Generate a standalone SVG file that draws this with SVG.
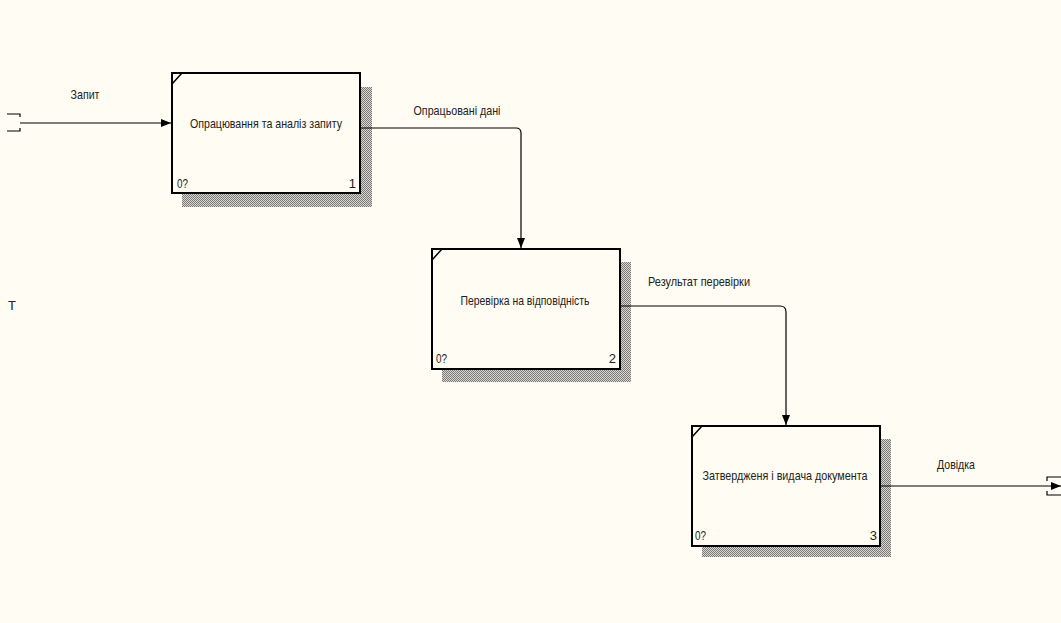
<svg xmlns="http://www.w3.org/2000/svg" width="1061" height="623" viewBox="0 0 1061 623">
<style>
.bg{fill:#FEFCF3}
.box{fill:#FEFCF3;stroke:#000;stroke-width:2}
.shadow{fill:url(#hatch)}
.t{font-family:"Liberation Sans",Arial,sans-serif;font-size:13px;fill:#222}
.c{text-anchor:middle}
.e{text-anchor:end}
.ln{fill:none;stroke:#000;stroke-width:1.2}
.br{fill:none;stroke:#000;stroke-width:1.2}
</style>
<defs>
<pattern id="hatch" width="2" height="2" patternUnits="userSpaceOnUse">
<rect width="2" height="2" fill="#d8d6ce"/>
<rect width="1" height="1" fill="#7a7a7a"/>
<rect x="1" y="1" width="1" height="1" fill="#7a7a7a"/>
</pattern>
<marker id="arr" viewBox="0 0 10 8" refX="10" refY="4" markerWidth="10" markerHeight="8" markerUnits="userSpaceOnUse" orient="auto">
<path d="M0,0 L10,4 L0,8 Z" fill="#000"/>
</marker>
</defs>
<rect class="bg" x="0" y="0" width="1061" height="623"/>

<g id="node1">
<rect class="shadow" x="182" y="87" width="190" height="120"/>
<rect class="box" x="172" y="73" width="188" height="120"/>
<line x1="172" y1="84" x2="182" y2="73" stroke="#000" stroke-width="1.5"/>
<text class="t c" x="266" y="128" textLength="152" lengthAdjust="spacingAndGlyphs">Опрацювання та аналіз запиту</text>
<text class="t" x="177" y="188" textLength="11" lengthAdjust="spacingAndGlyphs">0?</text>
<text class="t e" x="356" y="188">1</text>
</g>

<g id="node2">
<rect class="shadow" x="442" y="262" width="189" height="120"/>
<rect class="box" x="432" y="249" width="188" height="120"/>
<line x1="432" y1="260" x2="442" y2="249" stroke="#000" stroke-width="1.5"/>
<text class="t c" x="525" y="305" textLength="129" lengthAdjust="spacingAndGlyphs">Перевірка на відповідність</text>
<text class="t" x="436" y="363" textLength="11" lengthAdjust="spacingAndGlyphs">0?</text>
<text class="t e" x="616" y="363">2</text>
</g>

<g id="node3">
<rect class="shadow" x="702" y="439" width="189" height="118"/>
<rect class="box" x="692" y="426" width="188" height="120"/>
<line x1="692" y1="437" x2="702" y2="426" stroke="#000" stroke-width="1.5"/>
<text class="t c" x="785" y="480" textLength="165" lengthAdjust="spacingAndGlyphs">Затвердженя і видача документа</text>
<text class="t" x="695" y="540" textLength="11" lengthAdjust="spacingAndGlyphs">0?</text>
<text class="t e" x="877" y="540">3</text>
</g>

<g id="connectors">
<path class="br" d="M7,114 H20 V117 M7,131 H20 V128"/>
<path class="ln" d="M20,123 H171" marker-end="url(#arr)"/>
<text class="t c" x="85" y="99" textLength="29" lengthAdjust="spacingAndGlyphs">Запит</text>

<path class="ln" d="M361,128 H516 Q521,128 521,133 V248" marker-end="url(#arr)"/>
<text class="t c" x="457" y="115" textLength="87" lengthAdjust="spacingAndGlyphs">Опрацьовані дані</text>

<path class="ln" d="M621,306 H780 Q786,306 786,312 V425" marker-end="url(#arr)"/>
<text class="t c" x="699" y="286" textLength="102" lengthAdjust="spacingAndGlyphs">Результат перевірки</text>

<path class="ln" d="M881,486 H1061" marker-end="url(#arr)"/>
<text class="t c" x="956" y="469" textLength="38" lengthAdjust="spacingAndGlyphs">Довідка</text>
<path class="br" d="M1047,481 V477 H1061 M1047,491 V495 H1061"/>
</g>

<text class="t" x="8" y="310">T</text>
</svg>
